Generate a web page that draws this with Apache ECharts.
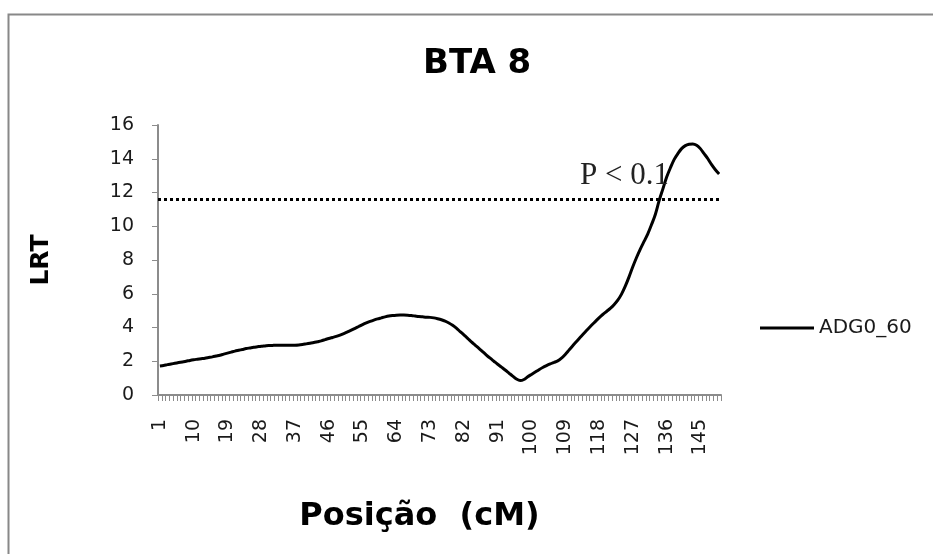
<!DOCTYPE html>
<html>
<head>
<meta charset="utf-8">
<script src="https://cdn.jsdelivr.net/npm/echarts@6/dist/echarts.min.js"></script>
<style>
  html, body { margin: 0; padding: 0; background: #fff; }
  #chart { width: 933px; height: 554px; }
</style>
</head>
<body>
<div id="chart"></div>
<script>
// Map positions (cM), 1..150
const positions = [];
for (let i = 1; i <= 150; i++) positions.push(String(i));

// LRT profile for ADG0_60 along BTA 8
const adg0_60 = [
  1.72, 1.75, 1.80, 1.84, 1.88, 1.92, 1.96, 2.00, 2.05, 2.09,
  2.12, 2.15, 2.18, 2.22, 2.26, 2.31, 2.36, 2.42, 2.48, 2.54,
  2.60, 2.65, 2.70, 2.75, 2.79, 2.83, 2.86, 2.89, 2.91, 2.93,
  2.94, 2.95, 2.95, 2.95, 2.95, 2.95, 2.95, 2.96, 2.99, 3.03,
  3.07, 3.11, 3.16, 3.21, 3.28, 3.35, 3.41, 3.47, 3.55, 3.64,
  3.74, 3.84, 3.95, 4.06, 4.17, 4.27, 4.36, 4.44, 4.51, 4.57,
  4.63, 4.68, 4.71, 4.73, 4.74, 4.74, 4.73, 4.71, 4.68, 4.65,
  4.63, 4.61, 4.60, 4.57, 4.52, 4.46, 4.38, 4.27, 4.13, 3.96,
  3.76, 3.56, 3.36, 3.15, 2.96, 2.77, 2.57, 2.37, 2.18, 2.00,
  1.82, 1.65, 1.48, 1.30, 1.12, 0.95, 0.86, 0.92, 1.08, 1.22,
  1.36, 1.50, 1.63, 1.74, 1.84, 1.93, 2.02, 2.18, 2.40, 2.66,
  2.92, 3.17, 3.42, 3.66, 3.90, 4.13, 4.35, 4.57, 4.77, 4.95,
  5.13, 5.35, 5.62, 5.98, 6.45, 7.00, 7.60, 8.15, 8.65, 9.10,
  9.55, 10.10, 10.70, 11.50, 12.20, 12.90, 13.45, 13.95, 14.30, 14.60,
  14.78, 14.86, 14.88, 14.80, 14.60, 14.30, 14.00, 13.65, 13.35, 13.10
];

// Significance threshold
const threshold = 11.6;
const thresholdLabel = 'P < 0.1';

const axisGray = '#8c8c8c';
const sans = 'DejaVu Sans';
const chart = echarts.init(document.getElementById('chart'), null, { renderer: 'canvas' });

chart.setOption({
  backgroundColor: '#ffffff',
  animation: false,
  title: {
    text: 'BTA 8',
    left: 418,
    top: 42,
    textStyle: { fontFamily: sans, fontWeight: 'bold', fontSize: 34, color: '#000' }
  },
  legend: {
    data: [{ name: 'ADG0_60', icon: 'rect' }],
    left: 760,
    top: 318,
    padding: 0,
    itemWidth: 54,
    itemHeight: 3,
    itemGap: 8,
    textStyle: { fontFamily: sans, fontSize: 20, color: '#1a1a1a' }
  },
  grid: { left: 158, right: 212, top: 125, bottom: 159, containLabel: false },
  xAxis: {
    type: 'category',
    data: positions,
    boundaryGap: true,
    name: 'Posição  (cM)',
    nameLocation: 'middle',
    nameGap: 106,
    nameTextStyle: {
      fontFamily: sans, fontWeight: 'bold', fontSize: 32, color: '#000',
      padding: [0, 40, 0, 0]
    },
    axisLine: { lineStyle: { color: axisGray, width: 2 } },
    axisTick: { show: true, interval: 0, length: 6, lineStyle: { color: axisGray, width: 1 } },
    axisLabel: {
      interval: 8,
      rotate: 90,
      margin: 24,
      fontFamily: sans,
      fontSize: 19,
      color: '#1a1a1a'
    },
    splitLine: { show: false }
  },
  yAxis: {
    type: 'value',
    min: 0,
    max: 16,
    interval: 2,
    name: 'LRT',
    nameLocation: 'middle',
    nameGap: 104,
    nameRotate: 90,
    nameTextStyle: { fontFamily: sans, fontWeight: 'bold', fontSize: 25, color: '#000' },
    axisLine: { show: true, lineStyle: { color: axisGray, width: 2 } },
    axisTick: { show: true, length: 6, lineStyle: { color: axisGray, width: 1 } },
    axisLabel: { margin: 24, fontFamily: sans, fontSize: 19, color: '#1a1a1a' },
    splitLine: { show: false }
  },
  series: [{
    name: 'ADG0_60',
    type: 'line',
    data: adg0_60,
    smooth: 0.3,
    symbol: 'none',
    showSymbol: false,
    lineStyle: { color: '#000', width: 3 },
    itemStyle: { color: '#000' },
    markLine: {
      silent: true,
      symbol: ['none', 'none'],
      lineStyle: { color: '#000', type: [3, 3], width: 3 },
      label: {
        show: true,
        formatter: thresholdLabel,
        position: 'insideEndTop',
        distance: [52, 8],
        fontFamily: 'Liberation Serif',
        fontSize: 31,
        color: '#222'
      },
      data: [{ yAxis: threshold }]
    }
  }],
  graphic: [{
    type: 'rect',
    left: 6,
    top: 12,
    shape: { width: 1000, height: 1000 },
    style: { fill: 'none', stroke: '#888888', lineWidth: 2 },
    silent: true
  }]
});
</script>
</body>
</html>
